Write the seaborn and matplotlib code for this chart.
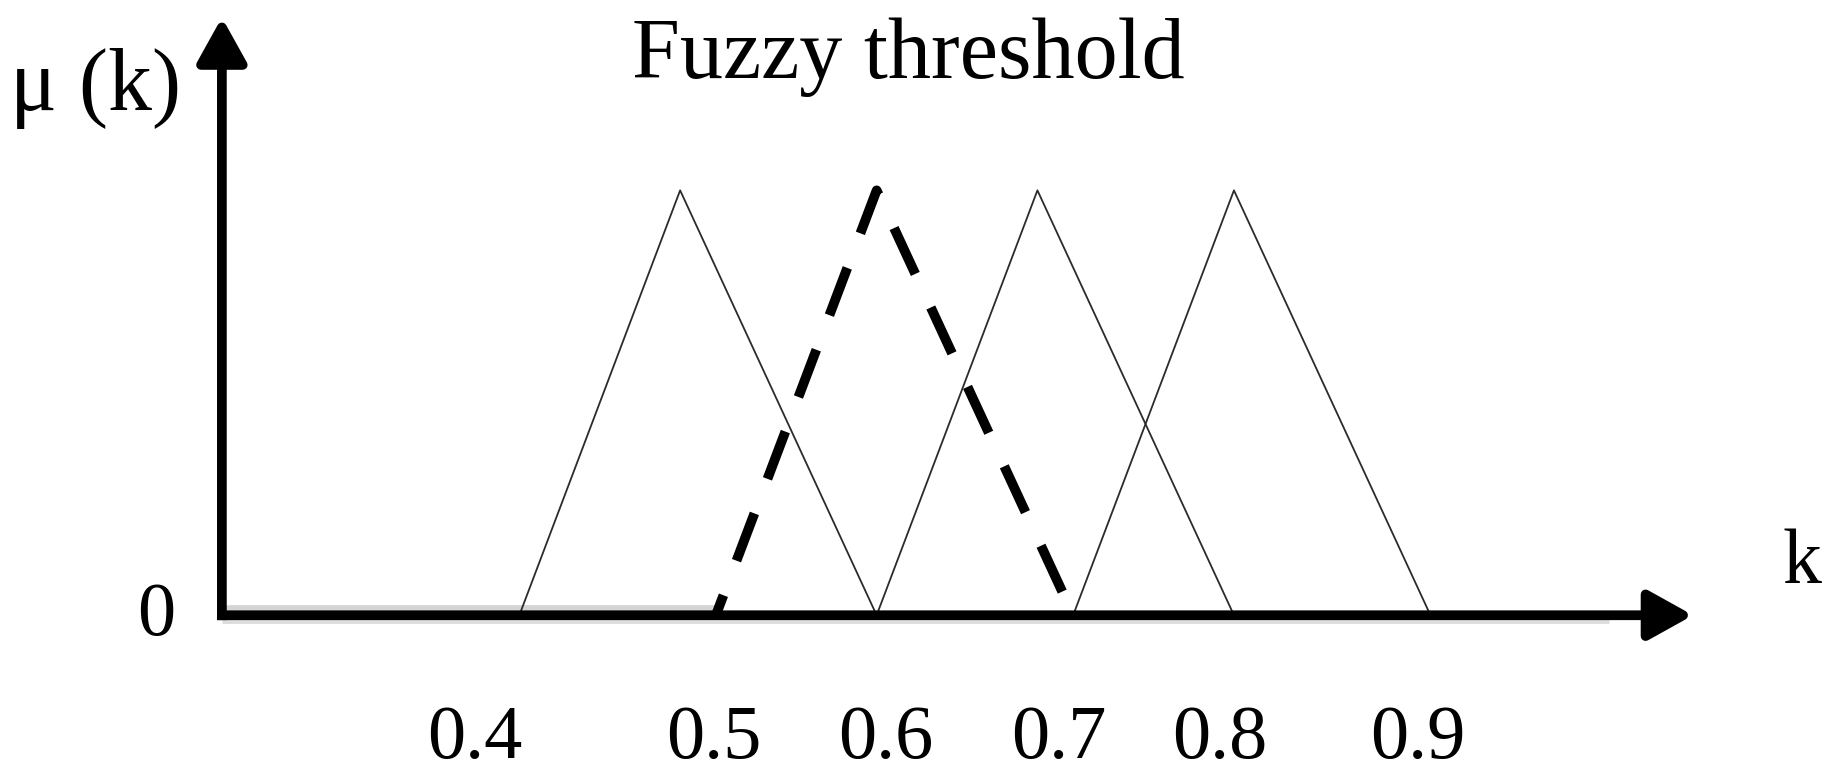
import pandas as pd
import matplotlib.pyplot as plt
import seaborn as sns

# triangular membership functions (k positions)
tri_left = [0.39, 0.50, 0.59, 0.70]
tri_peak = [0.48, 0.59, 0.68, 0.79]
tri_right = [0.59, 0.70, 0.79, 0.90]
tri_top = [1.0, 1.0, 1.0, 1.0]
dashed_set = 1  # the highlighted fuzzy threshold

# tick labels under the k axis and where they sit
tick_pos = [0.365, 0.499, 0.595, 0.692, 0.782, 0.893]
tick_labels = ["0.4", "0.5", "0.6", "0.7", "0.8", "0.9"]

sns.set_style("white")
plt.rcParams["font.family"] = ["Liberation Serif", "DejaVu Serif"]
plt.rcParams["text.color"] = "black"

fig = plt.figure(figsize=(18.31, 7.75), dpi=100)
ax = fig.add_axes([0, 0, 1, 1])
ax.set_xlim(0.0993, 1.1242)
ax.set_ylim(-0.376, 1.448)
ax.axis("off")

# triangles
for i in range(len(tri_left)):
    df = pd.DataFrame({
        "k": [tri_left[i], tri_peak[i], tri_right[i]],
        "mu": [0, tri_top[i], 0],
    })
    if i == dashed_set:
        sns.lineplot(data=df, x="k", y="mu", ax=ax, color="black", lw=7,
                     zorder=4)
        ax.lines[-1].set_linestyle((3.0, (5.2, 3.8)))
        ax.lines[-1].set_dash_capstyle("butt")
    else:
        sns.lineplot(data=df, x="k", y="mu", ax=ax, color="#2b2b2b", lw=1.3,
                     zorder=3)

# axes drawn as arrows
x0, x1, y1 = 0.2235, 1.047, 1.407
ax.plot([x0, 0.5], [0.012, 0.012], color="#d4d4d4", lw=7, zorder=2,
        solid_capstyle="butt")
ax.plot([x0, 1.0], [-0.012, -0.012], color="#dddddd", lw=5, zorder=2,
        solid_capstyle="butt")
head = "-|>,head_length=0.9,head_width=0.5"
ax.annotate("", xy=(x1, 0), xytext=(x0 - 0.0027, 0),
            arrowprops=dict(arrowstyle=head, mutation_scale=30, lw=7,
                            color="black", shrinkA=0, shrinkB=0,
                            capstyle="butt"), zorder=5)
ax.annotate("", xy=(x0, y1), xytext=(x0, -0.0115),
            arrowprops=dict(arrowstyle=head, mutation_scale=30, lw=7,
                            color="black", shrinkA=0, shrinkB=0,
                            capstyle="butt"), zorder=5)

# labels
for p, lab in zip(tick_pos, tick_labels):
    ax.text(p, -0.335, lab, ha="center", va="baseline", fontsize=55)
ax.text(0.1867, -0.046, "0", ha="center", va="baseline", fontsize=55)
ax.text(1.108, 0.076, "k", ha="center", va="baseline", fontsize=56)
ax.text(0.1526, 1.189, "μ (k)", ha="center", va="baseline", fontsize=63)
ax.text(0.608, 1.264, "Fuzzy threshold", ha="center", va="baseline",
        fontsize=62)

plt.savefig("out.png", dpi=100)
